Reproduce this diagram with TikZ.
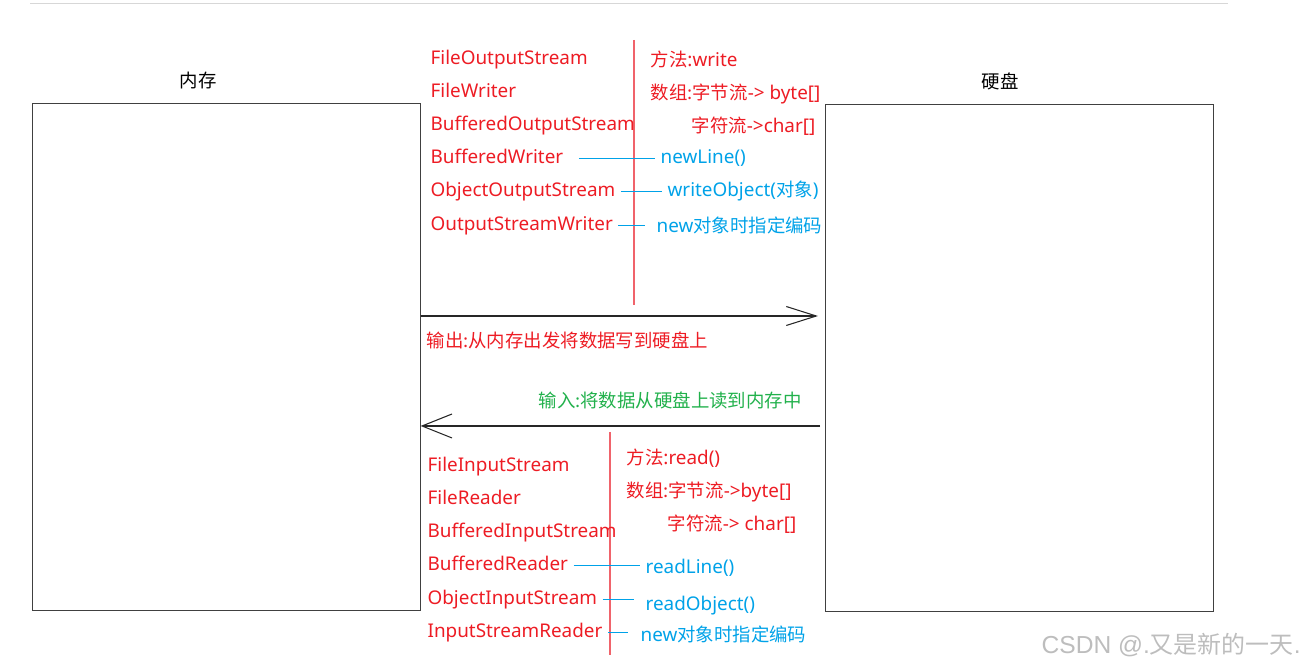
\documentclass[tikz,border=0pt]{standalone}
\usepackage{fontspec}
\setmainfont{Noto Sans}
\newfontfamily\cjk[Scale=0.975]{Noto Sans CJK SC}
\newfontfamily\wmfont{Liberation Sans}
\usetikzlibrary{arrows.meta,positioning}
\definecolor{ink}{HTML}{ED1C24}
\definecolor{sky}{HTML}{00A2E8}
\definecolor{leaf}{HTML}{22B14C}
\definecolor{rule}{HTML}{F0636B}
\definecolor{haze}{HTML}{BDBDBD}
\definecolor{frame}{HTML}{404040}

\begin{document}
\begin{tikzpicture}[
      x=0.02cm, y=-0.02cm,
      every node/.style={font=\fontsize{10.75}{12}\selectfont, inner sep=3pt},
      mbox/.style={rectangle, draw=frame, anchor=north west, inner sep=0pt,
                   minimum width=7.76cm, minimum height=10.14cm},
      cls/.style={anchor=west, text=ink, text height=0.75em, text depth=0.2em, yshift=-0.05cm},
      meth/.style={anchor=west, text=sky, text height=0.75em, text depth=0.2em, yshift=-0.05cm},
      link/.style={draw=sky, line width=0.6pt},
      split/.style={draw=rule, line width=0.9pt},
      flow/.style={draw=black!85, line width=0.6pt}
    ]
      \useasboundingbox (0,0) rectangle (1313,668);
      \draw[haze!60, line width=0.5pt] (30,3) -- (1228,3);

      % the two stores
      \node[mbox] (mem) at (32,103) {};
      \node[mbox] (disk) at (825,104) {};
      \node (memlbl) at (198,81) {\cjk 内存};
      \node (disklbl) at (1000,81) {\cjk 硬盘};

      % output side
      \draw[split] (634,40) -- (634,305);
      \node[cls] (fos) at (425,57) {FileOutputStream};
      \node[cls] (fw) at (425,90) {FileWriter};
      \node[cls] (bos) at (425,123) {BufferedOutputStream};
      \node[cls] (bw) at (425,156) {BufferedWriter};
      \node[cls] (oos) at (425,189) {ObjectOutputStream};
      \node[cls] (osw) at (425,223) {OutputStreamWriter};
      \node[cls] (wr) at (645,59) {{\cjk 方法}:write};
      \node[cls] (wbyte) at (645,92) {{\cjk 数组:字节流}-> byte[]};
      \node[cls] (wchar) at (686,125) {{\cjk 字符流}->char[]};
      \node[meth] (nl) at (655,156) {newLine()};
      \node[meth] (wo) at (662,189) {writeObject({\cjk 对象})};
      \node[meth] (wenc) at (651,225) {new{\cjk 对象时指定编码}};
      \draw[link, shorten <=0.2cm] (bw.east) -- (nl.west |- bw.east);
      \draw[link] (oos.east) -- (wo.west |- oos.east);
      \draw[link, shorten >=0.12cm] (osw.east) -- (wenc.west |- osw.east);

      % arrows between the stores
      \draw[flow, -{Straight Barb[length=0.6cm, width=0.38cm]}]
        (mem.east |- 0,316) -- ([xshift=-0.14cm]disk.west |- 0,316);
      \node[cls, anchor=west] (outlbl) at (421,340) {\cjk 输出:从内存出发将数据写到硬盘上};
      \node[cls, text=leaf] (inlbl) at (533,400) {\cjk 输入:将数据从硬盘上读到内存中};
      \draw[flow, -{Straight Barb[length=0.6cm, width=0.48cm]}]
        ([xshift=-0.1cm]disk.west |- 0,426) -- (mem.east |- 0,426);

      % input side
      \draw[split] (610,432) -- (610,655);
      \node[cls] (fis) at (422,464) {FileInputStream};
      \node[cls] (fr) at (422,497) {FileReader};
      \node[cls] (bis) at (422,530) {BufferedInputStream};
      \node[cls] (br) at (422,563) {BufferedReader};
      \node[cls] (ois) at (422,597) {ObjectInputStream};
      \node[cls] (isr) at (422,630) {InputStreamReader};
      \node[cls] (rd) at (621,457) {{\cjk 方法}:read()};
      \node[cls] (rbyte) at (621,490) {{\cjk 数组:字节流}->byte[]};
      \node[cls] (rchar) at (662,523) {{\cjk 字符流}-> char[]};
      \node[meth] (rl) at (640,566) {readLine()};
      \node[meth] (ro) at (640,603) {readObject()};
      \node[meth] (renc) at (635,634) {new{\cjk 对象时指定编码}};
      \draw[link] (br.east) -- (rl.west |- br.east);
      \draw[link, shorten >=0.12cm] (ois.east) -- (ro.west |- ois.east);
      \draw[link, shorten >=0.14cm] (isr.east) -- (renc.west |- isr.east);

      \node[anchor=west, text=haze, font=\fontsize{14}{16}\selectfont] (wmark) at (1036,645)
        {\wmfont CSDN @.{\cjk 又是新的一天}.};
    \end{tikzpicture}
\end{document}
